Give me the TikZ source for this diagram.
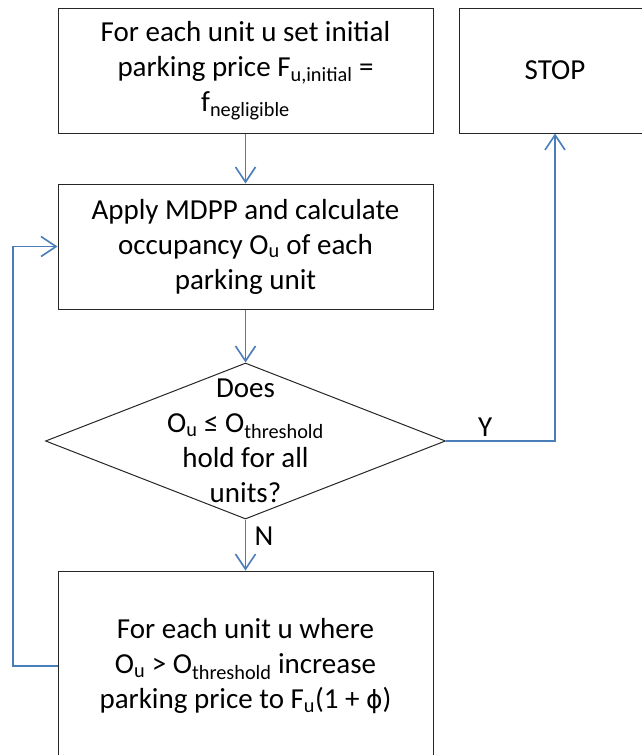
\documentclass[tikz,border=0pt]{standalone}
\usepackage{fontspec}
\setmainfont{Carlito}
\newfontfamily\greekfont{DejaVu Sans}
\usetikzlibrary{arrows.meta,positioning,shapes.geometric}
\definecolor{flowblue}{HTML}{4A7EBB}

\begin{document}
\begin{tikzpicture}[>={Straight Barb[length=15pt,width=20pt]}, x=1pt, y=1pt]
	\tikzset{block/.style= {draw=black!85, line width=1pt, rectangle, align=center, minimum width=375pt, minimum height=125pt, font=\fontsize{29}{35}\selectfont},
		decision/.style= {draw=black!85, line width=1pt, diamond, minimum width=400pt, minimum height=156pt, inner sep=0pt},
		plain/.style= {align=center, font=\fontsize{29}{35}\selectfont},
		link/.style= {draw=flowblue, line width=1.6pt},
	}
	\useasboundingbox (0,0) rectangle (641,-755);

	\node [block] (init) at (245.5,-70.5) {For each unit u set initial\\parking price F\textsubscript{u,initial} =\\f\textsubscript{negligible}};
	\node [block, right = 25pt of init, minimum width=192pt] (stop) {STOP};
	\node [block, below = 50pt of init] (apply) {Apply MDPP and calculate\\occupancy O\textsubscript{u} of each\\parking unit};
	\node [decision, below = 53pt of apply] (check) {};
	\node [plain] (checktext) at (check.center) {Does\\O\textsubscript{u} ≤ O\textsubscript{threshold}\\hold for all\\units?};
	\node [block, below = 51pt of check, minimum height=190pt] (raise) {For each unit u where\\O\textsubscript{u} > O\textsubscript{threshold} increase\\parking price to F\textsubscript{u}(1 + {\greekfont\fontsize{25}{35}\selectfont ϕ})};

	% loop back from the price update
	\coordinate [left = 44.5pt of raise.west] (back);

	\path[link, ->]
	(init) -- (apply);
	\path[link, ->]
	(apply) -- (check);
	\path[link, ->]
	(check) -- node[plain, pos=0.32, right=5pt]{N} (raise);
	\path[link, ->]
	(check.east) -| node[plain, pos=0.18, above]{Y} (stop.south);
	\path[link, ->]
	(raise.west) -- (back) |- (apply.west);
\end{tikzpicture}
\end{document}
